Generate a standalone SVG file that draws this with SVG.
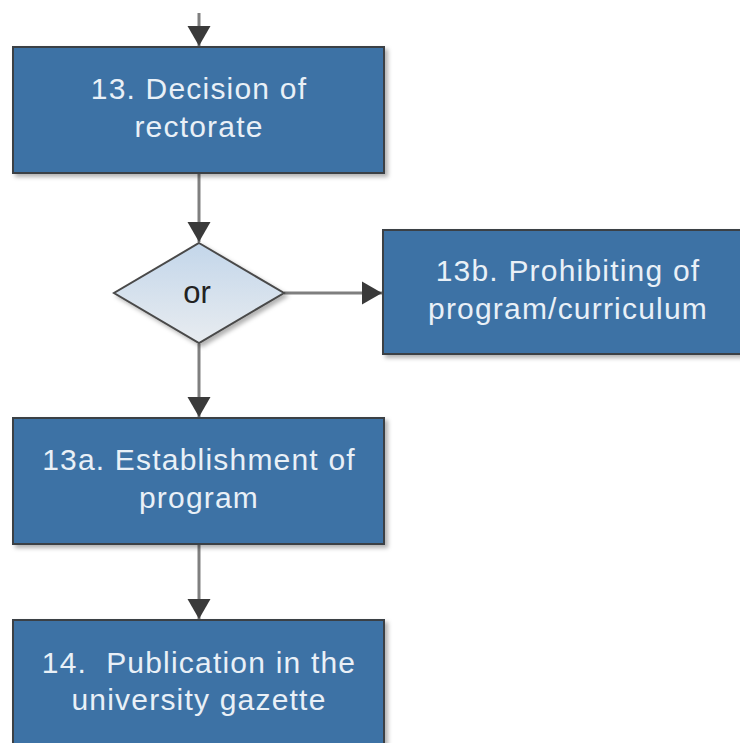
<svg xmlns="http://www.w3.org/2000/svg" width="740" height="743" viewBox="0 0 740 743">
<defs>
<style>
.box{fill:#3e72a5;stroke:#3a3f44;stroke-width:2}
.lbl{font-family:"Liberation Sans",Arial,sans-serif;font-size:30px;fill:#e9f0f7;text-anchor:middle;letter-spacing:1.2px}
.conn{stroke:#7f7f7f;stroke-width:3;fill:none}
.or{font-family:"Liberation Sans",Arial,sans-serif;font-size:31px;fill:#222;text-anchor:middle}
</style>
<marker id="ah" markerUnits="userSpaceOnUse" markerWidth="21" markerHeight="24" refX="20" refY="12" orient="auto" viewBox="0 0 21 24">
<path d="M0,0.5 L20,12 L0,23.5 z" fill="#3a3a3a"/>
</marker>
<linearGradient id="dg" x1="0" y1="0" x2="0" y2="1">
<stop offset="0" stop-color="#c3d6ea"/>
<stop offset="1" stop-color="#e8ecf0"/>
</linearGradient>
<filter id="sh" x="-10%" y="-10%" width="130%" height="130%">
<feDropShadow dx="3" dy="3" stdDeviation="2" flood-color="#000" flood-opacity="0.3"/>
</filter>
</defs>
<g id="connectors">
<line class="conn" x1="199" y1="13" x2="199" y2="46" marker-end="url(#ah)"/>
<line class="conn" x1="199" y1="174" x2="199" y2="242" marker-end="url(#ah)"/>
<line class="conn" x1="284" y1="293" x2="382" y2="293" marker-end="url(#ah)"/>
<line class="conn" x1="199" y1="344" x2="199" y2="417" marker-end="url(#ah)"/>
<line class="conn" x1="199" y1="545" x2="199" y2="619" marker-end="url(#ah)"/>
</g>
<g id="n13">
<rect class="box" x="13" y="47" width="371" height="126" filter="url(#sh)"/>
<text class="lbl" x="199" y="99">13. Decision of</text>
<text class="lbl" x="199" y="137">rectorate</text>
</g>
<g id="or">
<polygon points="199,243 284,293 199,343 114,293" fill="url(#dg)" stroke="#4a4a4a" stroke-width="2" filter="url(#sh)"/>
<text class="or" x="197" y="303">or</text>
</g>
<g id="n13b">
<rect class="box" x="383" y="230" width="372" height="124" filter="url(#sh)"/>
<text class="lbl" x="568" y="281">13b. Prohibiting of</text>
<text class="lbl" x="568" y="319">program/curriculum</text>
</g>
<g id="n13a">
<rect class="box" x="13" y="418" width="371" height="126" filter="url(#sh)"/>
<text class="lbl" x="199" y="470">13a. Establishment of</text>
<text class="lbl" x="199" y="508">program</text>
</g>
<g id="n14">
<rect class="box" x="13" y="620" width="371" height="140" filter="url(#sh)"/>
<text class="lbl" x="199" y="673" xml:space="preserve">14.  Publication in the</text>
<text class="lbl" x="199" y="710">university gazette</text>
</g>
</svg>
